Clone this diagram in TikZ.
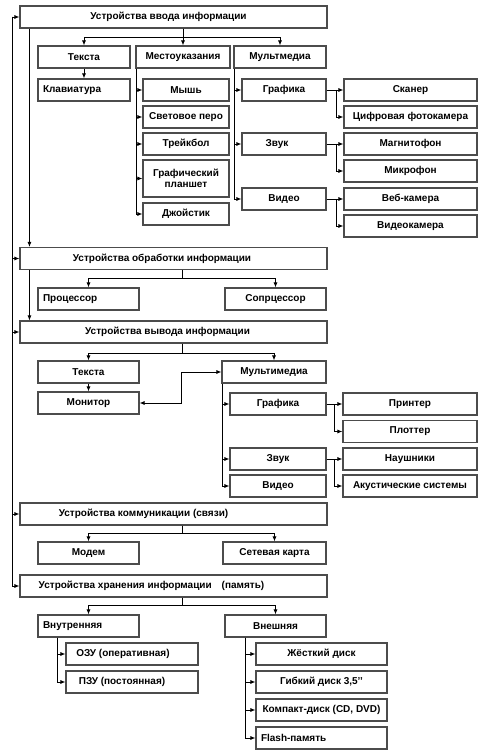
\documentclass[tikz,border=0pt]{standalone}
\usepackage{fontspec}
\setmainfont{Liberation Sans}
\usepackage{xcolor}
\usepackage{tikz}
\usetikzlibrary{arrows.meta}
\tikzset{
	unit/.style = {draw=black!70, line width=1.1pt, minimum height=22pt, inner sep=0pt, align=center, font=\fontsize{10}{11.5}\selectfont\bfseries, minimum width=#1},
	unit/.default = 0pt,
	lunit/.style = {unit, align=left, inner xsep=5pt, text width=#1},
	link/.style = {->, line width=0.8pt, black},
	>={Latex[length=5pt,width=4pt]},
}

\begin{document}
\begin{tikzpicture}[x=1pt, y=-1pt]
	\useasboundingbox (0,0) rectangle (486,754);

	\node[unit=307] (in1) at (173.5,17) {Устройства ввода информации\hspace*{10pt}};
	\node[unit=92] (in_text) at (84,57) {Текста};
	\node[unit=94] (in_loc) at (183,57) {Местоуказания};
	\node[unit=92] (in_mm) at (280,57) {Мультмедиа};
	\node[lunit=82] (kbd) at (84,90) {Клавиатура};
	\node[unit=86] (mouse) at (186,90) {Мышь};
	\node[unit=86] (pen) at (186,117) {Световое перо};
	\node[unit=86] (ball) at (186,144) {Трейкбол};
	\node[unit=86, minimum height=37pt] (tablet) at (186,178.5) {Графический\\планшет};
	\node[unit=86] (joy) at (186,214) {Джойстик};
	\node[unit=84] (in_gr) at (284,90) {Графика};
	\node[unit=84] (in_snd) at (284,144) {Звук\hspace*{14pt}};
	\node[unit=84] (in_vid) at (284,199) {Видео};
	\node[unit=133] (scan) at (410.5,90) {Сканер};
	\node[unit=133] (cam) at (410.5,117) {Цифровая фотокамера};
	\node[unit=133] (tape) at (410.5,144) {Магнитофон};
	\node[unit=133] (mic) at (410.5,171) {Микрофон};
	\node[unit=133] (web) at (410.5,199) {Веб-камера};
	\node[unit=133] (vcam) at (410.5,226) {Видеокамера};

	\node[unit=307] (proc) at (173.5,258.5) {Устройства обработки информации\hspace*{23pt}};
	\node[lunit=91] (cpu) at (88.5,299) {Процессор};
	\node[unit=101] (copro) at (275.5,299) {Сопрцессор};

	\node[unit=307] (out) at (173.5,332) {Устройства вывода информации\hspace*{12pt}};
	\node[unit=101] (out_text) at (88.5,372) {Текста};
	\node[unit=101] (mon) at (88.5,403) {Монитор};
	\node[unit=104] (out_mm) at (274,372) {Мультимедиа};
	\node[unit=96] (out_gr) at (278,404) {Графика};
	\node[unit=96] (out_snd) at (278,459) {Звук};
	\node[unit=96] (out_vid) at (278,486) {Видео};
	\node[unit=134] (prn) at (410,404) {Принтер};
	\node[unit=134] (plot) at (410,431.5) {Плоттер};
	\node[unit=134] (phones) at (410,459) {Наушники};
	\node[unit=134] (spk) at (410,486) {Акустические системы};

	\node[unit=307] (comm) at (173.5,514) {Устройства коммуникации (связи)\hspace*{60pt}};
	\node[unit=101] (modem) at (88.5,553) {Модем};
	\node[unit=103] (nic) at (274.5,553) {Сетевая карта};

	\node[unit=307] (stor) at (173.5,586) {Устройства хранения информации\hspace{10pt}(память)\hspace*{44pt}};
	\node[lunit=91] (intm) at (88.5,626) {Внутренняя};
	\node[unit=101] (extm) at (275.5,626) {Внешняя};
	\node[unit=132] (ram) at (132,654) {ОЗУ (оперативная)\hspace*{18pt}};
	\node[unit=132] (rom) at (132,682) {ПЗУ (постоянная)\hspace*{20pt}};
	\node[unit=131] (hdd) at (321.5,654) {Жёсткий диск};
	\node[unit=131] (fdd) at (321.5,682) {Гибкий диск 3,5’’};
	\node[unit=131] (cd) at (321.5,710) {Компакт-диск (CD, DVD)};
	\node[lunit=121] (flash) at (321.5,738) {Flash-память};

	\coordinate (rail) at (12,17);
	\draw[link] (rail) -- (in1);
	\draw[link] (rail) |- (proc);
	\draw[link] (rail) |- (out);
	\draw[link] (rail) |- (comm);
	\draw[link] (rail) |- (stor);
	\draw[link] ([xshift=10pt]in1.south west) -- ([xshift=10pt]proc.north west);
	\draw[link] ([xshift=10pt]proc.south west) -- ([xshift=10pt]out.north west);

	\draw[link] (in1.south -| in_loc) -- (in_loc);
	\draw[link] (in1.south -| in_loc) -- ++(0,9) -| (in_text);
	\draw[link] (in1.south -| in_loc) -- ++(0,9) -| (in_mm);
	\draw[link] (in_text) -- (kbd);
	\draw[link] ([xshift=1pt]in_loc.south west) |- (mouse);
	\draw[link] ([xshift=1pt]in_loc.south west) |- (pen);
	\draw[link] ([xshift=1pt]in_loc.south west) |- (ball);
	\draw[link] ([xshift=1pt]in_loc.south west) |- (tablet);
	\draw[link] ([xshift=1pt]in_loc.south west) |- (joy);
	\draw[link] ([xshift=1pt]in_mm.south west) |- (in_gr);
	\draw[link] ([xshift=1pt]in_mm.south west) |- (in_snd);
	\draw[link] ([xshift=1pt]in_mm.south west) |- (in_vid);
	\draw[link] (in_gr) -- (scan);
	\draw[link] ([xshift=10pt]in_gr.east) |- (cam);
	\draw[link] (in_snd) -- (tape);
	\draw[link] ([xshift=10pt]in_snd.east) |- (mic);
	\draw[link] (in_vid) -- (web);
	\draw[link] ([xshift=10pt]in_vid.east) |- (vcam);

	\draw[link] ([xshift=8.5pt]proc.south) -- ++(0,8) -| (cpu);
	\draw[link] ([xshift=8.5pt]proc.south) -- ++(0,8) -| (copro);

	\draw[link] ([xshift=8.5pt]out.south) -- ++(0,10) -| (out_text);
	\draw[link] ([xshift=8.5pt]out.south) -- ++(0,10) -| (out_mm);
	\draw[link] (out_text) -- (mon);
	\draw[link, <->] (mon.east) -- ++(42,0) |- (out_mm);
	\draw[link] ([xshift=1pt]out_mm.south west) |- (out_gr);
	\draw[link] ([xshift=1pt]out_mm.south west) |- (out_snd);
	\draw[link] ([xshift=1pt]out_mm.south west) |- (out_vid);
	\draw[link] (out_gr) -- (prn);
	\draw[link] ([xshift=8pt]out_gr.east) |- (plot);
	\draw[link] (out_snd) -- (phones);
	\draw[link] ([xshift=8pt]out_snd.east) |- (spk);

	\draw[link] ([xshift=8.5pt]comm.south) -- ++(0,8) -| (modem);
	\draw[link] ([xshift=8.5pt]comm.south) -- ++(0,8) -| (nic);

	\draw[link] ([xshift=8.5pt]stor.south) -- ++(0,8) -| (intm);
	\draw[link] ([xshift=8.5pt]stor.south) -- ++(0,8) -| (extm);
	\draw[link] ([xshift=20pt]intm.south west) |- (ram);
	\draw[link] ([xshift=20pt]intm.south west) |- (rom);
	\draw[link] ([xshift=21pt]extm.south west) |- (hdd);
	\draw[link] ([xshift=21pt]extm.south west) |- (fdd);
	\draw[link] ([xshift=21pt]extm.south west) |- (cd);
	\draw[link] ([xshift=21pt]extm.south west) |- (flash);
\end{tikzpicture}
\end{document}
